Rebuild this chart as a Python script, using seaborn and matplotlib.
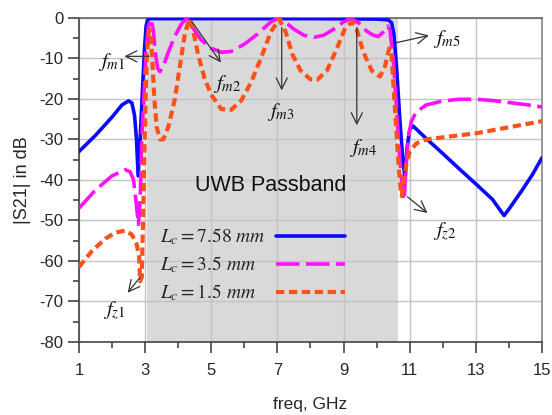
import numpy as np
import pandas as pd
import matplotlib
matplotlib.use('Agg')
import matplotlib.pyplot as plt
import seaborn as sns

# --- data (freq in GHz, |S21| in dB) ---
freq_758 = [1.0, 1.5, 2.0, 2.3, 2.5, 2.6, 2.68, 2.74, 2.79, 2.85, 2.92, 2.98, 3.03, 3.08,
            3.15, 4.0, 6.0, 8.0, 10.0, 10.35, 10.45, 10.52, 10.6, 10.7, 10.8, 10.86, 10.92,
            11.0, 11.1, 11.5, 12.0, 12.5, 13.0, 13.5, 13.85, 14.0, 14.4, 14.7, 15.0]
s21_758 = [-33, -29, -24.5, -21.5, -20.5, -21, -24, -30, -39, -30, -18, -8, -2, -0.5,
           -0.2, -0.2, -0.2, -0.2, -0.3, -0.5, -1.2, -4, -12, -25, -36, -39.5, -32,
           -27.5, -26.7, -29.8, -33.5, -37.3, -41, -44.8, -48.8, -47.2, -42.5, -38.8, -34.5]

freq_35 = [1.0, 1.5, 2.0, 2.4, 2.55, 2.65, 2.72, 2.8, 2.85, 2.9, 2.97, 3.03, 3.1, 3.18,
           3.25, 3.3, 3.38, 3.45, 3.55, 3.7, 3.9, 4.1, 4.27, 4.45, 4.7, 5.0, 5.3, 5.6,
           6.0, 6.4, 6.8, 7.0, 7.2, 7.5, 7.8, 8.1, 8.4, 8.7, 9.0, 9.22, 9.45, 9.7, 9.9,
           10.05, 10.2, 10.33, 10.4, 10.5, 10.6, 10.7, 10.78, 10.83, 10.88, 10.95, 11.05,
           11.2, 11.5, 12.0, 12.5, 13.0, 13.5, 14.0, 14.5, 15.0]
s21_35 = [-47, -42.5, -39, -37.5, -38, -40, -45, -51, -45, -30, -18, -8, -2, -0.3,
          -3, -8, -12.5, -13.3, -12, -8.5, -4.5, -1.5, 0, -2.5, -5.5, -7.5, -8.5, -8.3,
          -6.5, -4, -1, -0.2, -0.8, -2.8, -4.3, -4.8, -4.3, -2.8, -1, -0.1, -1.2, -3.3, -4.3,
          -4.6, -3.5, -2, -3, -10, -22, -35, -43, -45, -38, -30, -25.5,
          -23.2, -21.5, -20.5, -20.1, -20.1, -20.4, -20.9, -21.4, -22]

freq_15 = [1.0, 1.4, 1.8, 2.1, 2.4, 2.6, 2.75, 2.82, 2.85, 2.9, 2.95, 3.0, 3.05, 3.1,
           3.15, 3.2, 3.28, 3.35, 3.45, 3.55, 3.7, 3.9, 4.05, 4.2, 4.33, 4.45, 4.6, 4.8,
           5.0, 5.3, 5.6, 5.9, 6.2, 6.5, 6.8, 7.05, 7.25, 7.45, 7.7, 8.0, 8.2, 8.5, 8.8,
           9.05, 9.25, 9.4, 9.6, 9.85, 10.1, 10.25, 10.38, 10.45, 10.55, 10.65, 10.72,
           10.76, 10.83, 10.9, 11.0, 11.2, 11.5, 12.0, 13.0, 14.0, 15.0]
s21_15 = [-61.5, -57.5, -54.5, -53, -52.5, -53.5, -56, -59, -65, -64, -45, -25, -10, -3.5,
          -3, -8, -20, -27, -30, -30, -27, -20, -12, -4, -0.3, -3, -9, -15,
          -19, -22.5, -22.7, -20.5, -16, -10, -3.5, -0.3, -3.5, -9, -13, -15.2, -15.3, -13, -7.5,
          -2.5, -1, -3, -8.5, -13, -14.5, -12, -7.5, -9, -22, -35, -42,
          -44, -40, -36, -33, -31, -30, -29.5, -28.5, -27, -25.5]

labels = [r'$L_c = 7.58\ mm$', r'$L_c = 3.5\ mm$', r'$L_c = 1.5\ mm$']

band_start, band_end = 3.05, 10.65
x_ticks = [1, 3, 5, 7, 9, 11, 13, 15]
y_ticks = [0, -10, -20, -30, -40, -50, -60, -70, -80]

sns.set_style('white')
plt.rcParams['font.family'] = ['Liberation Sans', 'DejaVu Sans']
plt.rcParams['mathtext.fontset'] = 'stix'
plt.rcParams['axes.unicode_minus'] = False

fig = plt.figure(figsize=(5.52, 4.15), dpi=100)
ax = fig.add_axes([0.143, 0.176, 0.839, 0.781])

ax.axvspan(band_start, band_end, color='#d9d9d9', zorder=0, lw=0)

series = [
    (freq_758, s21_758, labels[0], '#0a0aff', 2.6, '-'),
    (freq_35, s21_35, labels[1], '#ff10ff', 2.6, (0, (6.5, 1.8))),
    (freq_15, s21_15, labels[2], '#ff5218', 3.0, (0, (2.0, 1.1))),
]
for fx, fy, lab, col, lw, ls in series:
    d = pd.DataFrame({'freq': fx, 's21': fy})
    sns.lineplot(data=d, x='freq', y='s21', ax=ax, color=col, lw=lw, linestyle=ls,
                 label=lab, estimator=None, sort=False, zorder=3)

ax.set_xlim(1, 15)
ax.set_ylim(-80, 0)
ax.set_xticks(x_ticks)
ax.set_yticks(y_ticks)
ax.set_xticks(np.arange(2, 15, 2), minor=True)
ax.set_yticks(np.arange(-75, 0, 10), minor=True)
ax.grid(True, which='major', color='#c4c4c4', lw=1.0, zorder=1)
ax.set_axisbelow(True)
ax.tick_params(axis='both', which='both', direction='out', bottom=True, left=True,
               width=1.2, color='#444444', labelsize=12, pad=3)
ax.tick_params(axis='x', which='major', pad=7)
ax.tick_params(axis='both', which='major', length=8)
ax.tick_params(axis='both', which='minor', length=4.5)
for sp in ax.spines.values():
    sp.set_color('#444444')
    sp.set_linewidth(1.2)
ax.spines['top'].set_color('#666666')
ax.spines['right'].set_color('#888888')

ax.set_xlabel('freq, GHz', fontsize=12.5, labelpad=14)
ax.set_ylabel('|S21| in dB', fontsize=13, labelpad=6)

# legend: labels left-aligned, line samples in a column to their right
handles, labs = ax.get_legend_handles_labels()
leg_kw = dict(frameon=False, fontsize=14, labelspacing=0.38, borderpad=0, borderaxespad=0)
leg_text = ax.legend(handles, labs, loc='upper left', bbox_to_anchor=(0.175, 0.356),
                     handlelength=0, handletextpad=0, **leg_kw)
for h in leg_text.legend_handles:
    h.set_visible(False)
ax.add_artist(leg_text)
leg_lines = ax.legend(handles, labs, loc='upper right', bbox_to_anchor=(0.5745, 0.356),
                      markerfirst=False, handlelength=3.55, handletextpad=0.5, **leg_kw)
for t in leg_lines.get_texts():
    t.set_alpha(0)

ax.text(6.8, -41.5, 'UWB Passband', fontsize=15.5, ha='center', va='center', color='#111111')

arrow = dict(arrowstyle='->', color='#333333', lw=0.9, mutation_scale=20)
ax.annotate('', xy=(2.29, -9.5), xytext=(3.2, -9.5), arrowprops=arrow, zorder=4)
ax.annotate('', xy=(5.34, -11.6), xytext=(4.36, -0.3), arrowprops=arrow, zorder=4)
ax.annotate('', xy=(7.13, -18.6), xytext=(7.13, -1.7), arrowprops=arrow, zorder=4)
ax.annotate('', xy=(9.4, -27.2), xytext=(9.4, -1.7), arrowprops=arrow, zorder=4)
ax.annotate('', xy=(11.66, -4.2), xytext=(10.5, -6.3), arrowprops=arrow, zorder=4)
ax.annotate('', xy=(2.42, -68.4), xytext=(2.9, -63.5), arrowprops=arrow, zorder=4)
ax.annotate('', xy=(11.6, -48.6), xytext=(10.86, -43.7), arrowprops=arrow, zorder=4)

fkw = dict(fontsize=15, ha='center', va='center', color='#111111')
ax.text(2.0, -10.8, '$f_{m1}$', **fkw)
ax.text(5.48, -16.3, '$f_{m2}$', **fkw)
ax.text(7.1, -23.3, '$f_{m3}$', **fkw)
ax.text(9.6, -32.2, '$f_{m4}$', **fkw)
ax.text(12.12, -5.2, '$f_{m5}$', **fkw)
ax.text(2.07, -72.2, '$f_{z1}$', **fkw)
ax.text(12.07, -52.8, '$f_{z2}$', **fkw)

fig.savefig('out.png', dpi=100)
